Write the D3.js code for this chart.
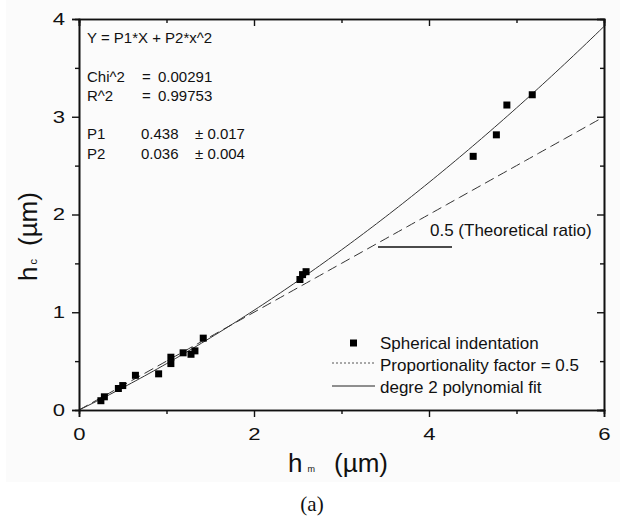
<!DOCTYPE html>
<html>
<head>
<meta charset="utf-8">
<script src="https://cdn.jsdelivr.net/npm/d3@7"></script>
<style>
  html, body { margin: 0; padding: 0; background: #fff; }
  svg { display: block; font-family: "Liberation Sans", Arial, sans-serif; }
</style>
</head>
<body>
<svg id="chart" width="620" height="516"></svg>
<script>
// Spherical indentation: contact depth hc versus maximum depth hm (µm)
const hm = [0.25, 0.29, 0.45, 0.50, 0.645, 0.91, 1.05, 1.05, 1.19, 1.28, 1.325, 1.42,
            2.525, 2.555, 2.595, 4.505, 4.77, 4.89, 5.18];
const hc = [0.095, 0.135, 0.22, 0.25, 0.355, 0.37, 0.54, 0.475, 0.585, 0.57, 0.605, 0.735,
            1.335, 1.385, 1.415, 2.595, 2.815, 3.12, 3.225];

// Fitted model Y = P1*X + P2*X^2 and the theoretical ratio
const P1 = 0.438, P2 = 0.036;
const ratio = 0.5;

const xMajor = [0, 2, 4, 6], xMinor = [1, 3, 5];
const yMajor = [0, 1, 2, 3, 4], yMinor = [0.5, 1.5, 2.5, 3.5];

const fitLines = [
  "Y = P1*X + P2*x^2",
];
const statNames = ["Chi^2", "R^2"];
const statValues = ["0.00291", "0.99753"];
const paramNames = ["P1", "P2"];
const paramValues = ["0.438", "0.036"];
const paramErrors = ["0.017", "0.004"];
const legendLabels = ["Spherical indentation", "Proportionality factor = 0.5", "degre 2 polynomial fit"];

const svg = d3.select("#chart");

// faint page tone behind the figure
svg.append("rect").attr("x", 6).attr("y", 0).attr("width", 614).attr("height", 482).attr("fill", "#fbfbfb");

const x = d3.scaleLinear().domain([0, 6]).range([79, 604]);
const y = d3.scaleLinear().domain([0, 4]).range([410, 19]);

const g = svg.append("g");

// sampled curves: proportional ratio (dashed) and polynomial fit (solid)
const xs = d3.range(0, 6.0001, 0.05);
const line = d3.line().x(d => x(d[0])).y(d => y(d[1]));

g.append("path")
  .datum(xs.map(v => [v, ratio * v]))
  .attr("d", line).attr("fill", "none")
  .attr("stroke", "#333").attr("stroke-width", 1)
  .attr("stroke-dasharray", "10,5");

g.append("path")
  .datum(xs.map(v => [v, P1 * v + P2 * v * v]))
  .attr("d", line).attr("fill", "none")
  .attr("stroke", "#333").attr("stroke-width", 1);

// data markers
const ms = 7;
g.selectAll("rect.pt").data(hm.map((v, i) => [v, hc[i]])).enter()
  .append("rect").attr("class", "pt")
  .attr("x", d => x(d[0]) - ms / 2).attr("y", d => y(d[1]) - ms / 2)
  .attr("width", ms).attr("height", ms).attr("fill", "#000");

// axes
const stretch = 1.3;
function styleAxis(sel) {
  sel.select(".domain").attr("stroke", "#111").attr("stroke-width", 1.6);
  sel.selectAll(".tick line").attr("stroke", "#111").attr("stroke-width", 1.4);
  sel.selectAll("text").attr("fill", "#111").attr("font-size", 17)
     .attr("font-family", "Liberation Sans, Arial, sans-serif");
}

const axBottom = svg.append("g").attr("transform", `translate(0,${y(0)})`)
  .call(d3.axisBottom(x).tickValues(xMajor).tickSize(7).tickPadding(11).tickFormat(d3.format("d")));
styleAxis(axBottom);
axBottom.selectAll(".tick text").attr("transform", `scale(${stretch},1)`);
const axBottomMinor = svg.append("g").attr("transform", `translate(0,${y(0)})`)
  .call(d3.axisBottom(x).tickValues(xMinor).tickSize(4).tickFormat(""));
styleAxis(axBottomMinor);

const axLeft = svg.append("g").attr("transform", `translate(${x(0)},0)`)
  .call(d3.axisLeft(y).tickValues(yMajor).tickSize(7).tickPadding(3.8).tickFormat(d3.format("d")));
styleAxis(axLeft);
axLeft.selectAll(".tick text").attr("transform", `scale(${stretch},1)`);
const axLeftMinor = svg.append("g").attr("transform", `translate(${x(0)},0)`)
  .call(d3.axisLeft(y).tickValues(yMinor).tickSize(4).tickFormat(""));
styleAxis(axLeftMinor);

// mirrored axes with inward ticks
const axTop = svg.append("g").attr("transform", `translate(0,${y(4)})`)
  .call(d3.axisBottom(x).tickValues(xMajor).tickSize(7).tickFormat(""));
styleAxis(axTop);
const axTopMinor = svg.append("g").attr("transform", `translate(0,${y(4)})`)
  .call(d3.axisBottom(x).tickValues(xMinor).tickSize(4).tickFormat(""));
styleAxis(axTopMinor);
const axRight = svg.append("g").attr("transform", `translate(${x(6)},0)`)
  .call(d3.axisLeft(y).tickValues(yMajor).tickSize(7).tickFormat(""));
styleAxis(axRight);
const axRightMinor = svg.append("g").attr("transform", `translate(${x(6)},0)`)
  .call(d3.axisLeft(y).tickValues(yMinor).tickSize(4).tickFormat(""));
styleAxis(axRightMinor);

// axis titles
const xt = svg.append("text").attr("x", 288).attr("y", 472).attr("font-size", 26).attr("fill", "#111");
xt.append("tspan").text("h");
xt.append("tspan").attr("font-size", 9).attr("dx", 5).text("m");
xt.append("tspan").attr("x", 334).text("(µm)");

const yt = svg.append("text").attr("transform", "translate(37,281) rotate(-90)")
  .attr("font-size", 26).attr("fill", "#111");
yt.append("tspan").text("h");
yt.append("tspan").attr("font-size", 11).attr("dx", 2).text("c");
yt.append("tspan").attr("dx", 13).text("(µm)");

// fit report
const rep = svg.append("g").attr("font-size", 15).attr("fill", "#111");
rep.append("text").attr("x", 87).attr("y", 43).text(fitLines[0]);
statNames.forEach((n, i) => {
  const yy = 82 + i * 19;
  rep.append("text").attr("x", 87).attr("y", yy).text(n);
  rep.append("text").attr("x", 142).attr("y", yy).text("=");
  rep.append("text").attr("x", 158).attr("y", yy).text(statValues[i]);
});
paramNames.forEach((n, i) => {
  const yy = 139 + i * 20;
  rep.append("text").attr("x", 87).attr("y", yy).text(n);
  rep.append("text").attr("x", 141).attr("y", yy).text(paramValues[i]);
  rep.append("text").attr("x", 195).attr("y", yy).text("± " + paramErrors[i]);
});

// theoretical ratio marker
svg.append("line").attr("x1", 378).attr("x2", 452).attr("y1", 247).attr("y2", 247)
  .attr("stroke", "#111").attr("stroke-width", 1.3);
svg.append("text").attr("x", 430).attr("y", 236).attr("font-size", 17).attr("fill", "#111")
  .text("0.5 (Theoretical ratio)");

// legend
const lg = svg.append("g").attr("font-size", 17).attr("fill", "#111");
lg.append("rect").attr("x", 350).attr("y", 339.5).attr("width", ms).attr("height", ms).attr("fill", "#000");
lg.append("line").attr("x1", 332).attr("x2", 375).attr("y1", 363).attr("y2", 363)
  .attr("stroke", "#555").attr("stroke-width", 1).attr("stroke-dasharray", "2,2");
lg.append("line").attr("x1", 332).attr("x2", 375).attr("y1", 386).attr("y2", 386)
  .attr("stroke", "#222").attr("stroke-width", 1);
legendLabels.forEach((t, i) => {
  lg.append("text").attr("x", 380).attr("y", 349 + i * 22).text(t);
});

// panel label
svg.append("text").attr("x", 312).attr("y", 511).attr("text-anchor", "middle")
  .attr("font-family", "Liberation Serif, Times New Roman, serif").attr("font-size", 21)
  .attr("fill", "#111").text("(a)");
</script>
</body>
</html>
